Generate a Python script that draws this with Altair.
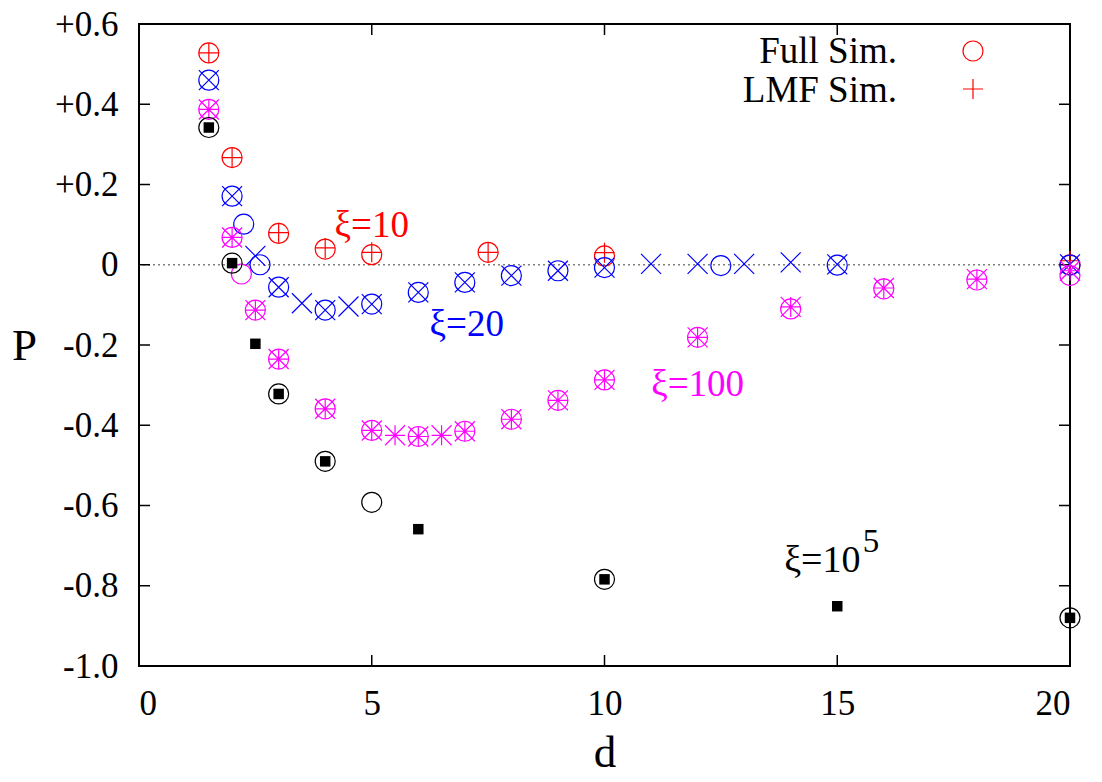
import json
import pandas as pd
import altair as alt

# ---------------- data ----------------
# xi = 10 (red)
d10_full = [1.5, 2, 3, 4, 5, 7.5, 10, 20]
p10_full = [0.528, 0.267, 0.078, 0.039, 0.025, 0.031, 0.022, 0.000]
d10_lmf = [1.5, 2, 3, 4, 5, 7.5, 10, 20]
p10_lmf = [0.528, 0.267, 0.080, 0.042, 0.031, 0.031, 0.030, 0.010]

# xi = 20 (blue)
d20_full = [1.5, 2, 2.25, 2.6, 3, 4, 5, 6, 7, 8, 9, 10, 12.5, 15, 20]
p20_full = [0.460, 0.171, 0.101, 0.000, -0.056, -0.113, -0.098, -0.069, -0.044,
            -0.027, -0.015, -0.007, -0.002, -0.001, -0.001]
d20_lmf = [1.5, 2, 2.5, 3, 3.5, 4, 4.5, 5, 6, 7, 8, 9, 10, 11, 12, 13, 14, 15, 20]
p20_lmf = [0.460, 0.171, 0.022, -0.056, -0.096, -0.113, -0.104, -0.098, -0.069,
           -0.044, -0.027, -0.015, -0.007, 0.002, 0.002, 0.002, 0.006, 0.001, 0.001]

# xi = 100 (magenta)
d100_full = [1.5, 2, 2.2, 2.5, 3, 4, 5, 6, 7, 8, 9, 10, 12, 14, 16, 18, 20]
p100_full = [0.387, 0.068, -0.023, -0.113, -0.235, -0.359, -0.413, -0.428, -0.415,
             -0.385, -0.338, -0.287, -0.181, -0.110, -0.060, -0.038, -0.027]
d100_lmf = [1.5, 2, 2.5, 3, 4, 5, 5.5, 6, 6.5, 7, 8, 9, 10, 12, 14, 16, 18, 20]
p100_lmf = [0.387, 0.068, -0.113, -0.235, -0.359, -0.413, -0.425, -0.428, -0.425,
            -0.415, -0.385, -0.338, -0.287, -0.181, -0.105, -0.058, -0.036, -0.015]

# xi = 10^5 (black)
d1e5_full = [1.5, 2, 3, 4, 5, 10, 20]
p1e5_full = [0.342, 0.004, -0.322, -0.490, -0.592, -0.784, -0.880]
d1e5_lmf = [1.5, 2, 2.5, 3, 4, 6, 10, 15, 20]
p1e5_lmf = [0.342, 0.004, -0.197, -0.322, -0.490, -0.659, -0.784, -0.851, -0.880]

x_ticks = [0, 5, 10, 15, 20]
y_ticks = [-1.0, -0.8, -0.6, -0.4, -0.2, 0.0, 0.2, 0.4, 0.6]
y_tick_labels = ["-1.0", "-0.8", "-0.6", "-0.4", "-0.2", "0", "+0.2", "+0.4", "+0.6"]

legend_labels = ["Full Sim.", "LMF Sim."]
annot_labels = ["ξ=10", "ξ=20", "ξ=100", "ξ=10", "5"]
annot_d = [5.0, 7.04, 12.0, 15.5, 15.55]
annot_p = [0.07, -0.177, -0.328, -0.766, -0.716]

# ---------------- styling ----------------
W, H = 931, 642
FONT = "Liberation Serif, Times New Roman, serif"
RED, BLUE, MAG, BLK = "#ff0000", "#0000ff", "#ff00ff", "#000000"
PLUS = "M-1,0L1,0M0,-1L0,1"
XSH = "M-1,-1L1,1M-1,1L1,-1"
STAR = PLUS + XSH
SYM = 400
SW = 1.2
TL = 11  # inward tick length

label_expr = "{}[indexof({}, datum.value)]".format(json.dumps(y_tick_labels), json.dumps(y_ticks))

X = alt.X("d:Q", scale=alt.Scale(domain=[0, 20], nice=False, zero=False),
          axis=alt.Axis(values=x_ticks, title="d", labelPadding=20, titleBaseline="alphabetic",
                        titleY=100, titleAnchor="middle"))
Y = alt.Y("P:Q", scale=alt.Scale(domain=[-1.0, 0.6], nice=False, zero=False),
          axis=alt.Axis(values=y_ticks, labelExpr=label_expr, title="P", labelPadding=21,
                        titleAngle=0, titleAlign="center", titleBaseline="alphabetic",
                        titleX=-115, titleY=335))


def df(ds, ps):
    return pd.DataFrame({"d": ds, "P": ps})


def sym_pts(ds, ps, color, shape):
    return alt.Chart(df(ds, ps)).mark_point(shape=shape, size=SYM, filled=False,
                                            stroke=color, strokeWidth=SW, opacity=1).encode(x=X, y=Y)


zero_line = alt.Chart(pd.DataFrame({"P": [0.0]})).mark_rule(
    color="#808080", strokeWidth=1.5, strokeDash=[2, 3]).encode(y=Y)

ytick_df = pd.DataFrame({"P": y_ticks})
xtick_df = pd.DataFrame({"d": x_ticks})
tick_style = dict(color="black", strokeWidth=1.5)
ticks = [
    alt.Chart(ytick_df).mark_rule(**tick_style).encode(y=Y, x=alt.value(0), x2=alt.value(TL)),
    alt.Chart(ytick_df).mark_rule(**tick_style).encode(y=Y, x=alt.value(W - TL), x2=alt.value(W)),
    alt.Chart(xtick_df).mark_rule(**tick_style).encode(x=X, y=alt.value(H), y2=alt.value(H - TL)),
    alt.Chart(xtick_df).mark_rule(**tick_style).encode(x=X, y=alt.value(0), y2=alt.value(TL)),
]

points = [
    sym_pts(d10_full, p10_full, RED, "circle"),
    sym_pts(d10_lmf, p10_lmf, RED, PLUS),
    sym_pts(d20_full, p20_full, BLUE, "circle"),
    sym_pts(d20_lmf, p20_lmf, BLUE, XSH),
    sym_pts(d100_full, p100_full, MAG, "circle"),
    sym_pts(d100_lmf, p100_lmf, MAG, STAR),
    sym_pts(d1e5_full, p1e5_full, BLK, "circle"),
    alt.Chart(df(d1e5_lmf, p1e5_lmf)).mark_point(shape="square", size=110, filled=True,
                                                 color=BLK, opacity=1).encode(x=X, y=Y),
]

annot_colors = [RED, BLUE, MAG, BLK, BLK]
annot_align = ["center", "center", "center", "right", "left"]
annot_size = [37, 37, 37, 38, 33]
annots = []
for i in range(len(annot_labels)):
    annots.append(
        alt.Chart(pd.DataFrame({"d": [annot_d[i]], "P": [annot_p[i]], "t": [annot_labels[i]]}))
        .mark_text(font=FONT, fontSize=annot_size[i], color=annot_colors[i], align=annot_align[i],
                   baseline="alphabetic")
        .encode(x=X, y=Y, text="t:N")
    )

legend = [
    alt.Chart(pd.DataFrame({"t": [legend_labels[0]]})).mark_text(
        font=FONT, fontSize=37, color="black", align="right", baseline="alphabetic"
    ).encode(text="t:N", x=alt.value(758), y=alt.value(39)),
    alt.Chart(pd.DataFrame({"t": [legend_labels[1]]})).mark_text(
        font=FONT, fontSize=37, color="black", align="right", baseline="alphabetic"
    ).encode(text="t:N", x=alt.value(758), y=alt.value(78)),
    alt.Chart(pd.DataFrame({"t": [legend_labels[0]]})).mark_point(
        shape="circle", size=SYM, filled=False, stroke=RED, strokeWidth=SW, opacity=1
    ).encode(x=alt.value(834), y=alt.value(27)),
    alt.Chart(pd.DataFrame({"t": [legend_labels[1]]})).mark_point(
        shape=PLUS, size=SYM, filled=False, stroke=RED, strokeWidth=SW, opacity=1
    ).encode(x=alt.value(834), y=alt.value(65)),
]

chart = alt.layer(zero_line, *ticks, *points, *annots, *legend).properties(
    width=W, height=H,
    padding={"left": 139, "top": 24, "right": 1102 - 139 - W, "bottom": 782 - 24 - H},
    autosize=alt.AutoSizeParams(type="none"),
    background="white",
).configure_view(stroke="black", strokeWidth=2).configure_axis(
    labelFont=FONT, labelFontSize=35, labelColor="black", titleFont=FONT, titleFontSize=45,
    titleFontWeight="normal", titleColor="black", ticks=False, tickSize=0, domain=False, grid=False,
)

chart.save("out.html", embed_options={"renderer": "svg", "actions": False})
